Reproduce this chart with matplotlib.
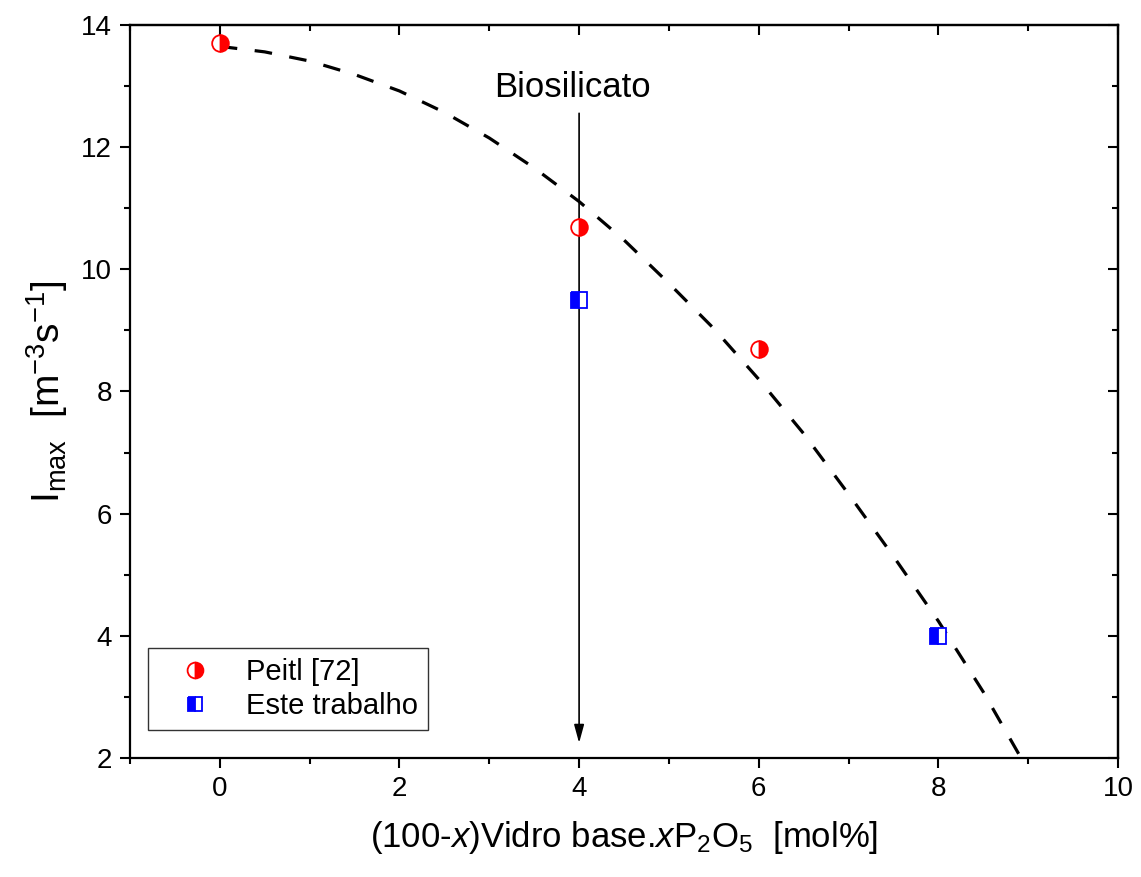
import matplotlib.pyplot as plt
from matplotlib.ticker import MultipleLocator

plt.rcParams["font.family"] = ["Liberation Sans", "DejaVu Sans"]
plt.rcParams["mathtext.fontset"] = "custom"
plt.rcParams["mathtext.rm"] = "Liberation Sans"
plt.rcParams["mathtext.it"] = "Liberation Sans:italic"

# measured points
peitl_x = [0, 4, 6]
peitl_y = [13.7, 10.7, 8.7]
este_x = [4, 8]
este_y = [9.5, 4.0]

# dashed guide curve
curve_x = [0, 0.5, 1.0, 1.5, 2.0, 2.5, 3.0, 3.5, 4.0, 4.5, 5.0, 5.5,
           6.0, 6.5, 7.0, 7.5, 8.0, 8.5, 8.92]
curve_y = [13.65, 13.56, 13.41, 13.19, 12.92, 12.57, 12.15, 11.66, 11.11,
           10.48, 9.77, 9.03, 8.20, 7.31, 6.32, 5.30, 4.24, 3.08, 2.0]

fig = plt.figure(figsize=(11.41, 8.77), dpi=100)
ax = fig.add_axes([0.1139, 0.1357, 0.866, 0.8358])

ax.plot(curve_x, curve_y, color="black", lw=2.3, dashes=(5.5, 5.5),
        zorder=2)
ax.plot(peitl_x, peitl_y, linestyle="none", marker="o", markersize=12,
        fillstyle="right", color="red", markerfacecoloralt="white",
        markeredgecolor="red", markeredgewidth=1.3, label="Peitl [72]",
        zorder=4)
ax.plot(este_x, este_y, linestyle="none", marker="s", markersize=11,
        fillstyle="left", color="blue", markerfacecoloralt="white",
        markeredgecolor="blue", markeredgewidth=1.3, label="Este trabalho",
        zorder=4)

ax.annotate("", xy=(4, 2.2), xytext=(4, 12.6),
            arrowprops=dict(arrowstyle="-|>,head_length=1.1,head_width=0.3",
                            color="black", lw=1.2), zorder=3)
ax.text(3.93, 12.97, "Biosilicato", ha="center", va="center", fontsize=25)

ax.set_xlim(-1, 10)
ax.set_ylim(2, 14)
ax.xaxis.set_major_locator(MultipleLocator(2))
ax.xaxis.set_minor_locator(MultipleLocator(1))
ax.yaxis.set_major_locator(MultipleLocator(2))
ax.yaxis.set_minor_locator(MultipleLocator(1))
ax.tick_params(which="both", direction="out", width=1.5, labelsize=20)
ax.tick_params(which="major", length=7, pad=6)
ax.tick_params(which="minor", length=4)

# mirrored ticks on top and right point inward
top = ax.secondary_xaxis("top")
top.xaxis.set_major_locator(MultipleLocator(2))
top.xaxis.set_minor_locator(MultipleLocator(1))
right = ax.secondary_yaxis("right")
right.yaxis.set_major_locator(MultipleLocator(2))
right.yaxis.set_minor_locator(MultipleLocator(1))
for sec in (top, right):
    sec.tick_params(which="both", direction="in", width=1.5,
                    labeltop=False, labelright=False)
    sec.tick_params(which="major", length=7)
    sec.tick_params(which="minor", length=4)
    for s in sec.spines.values():
        s.set_linewidth(1.6)
for s in ax.spines.values():
    s.set_linewidth(1.6)

ax.set_xlabel("(100-$\\it{x}$)Vidro base.$\\it{x}$P$_2$O$_5$  [mol%]",
              fontsize=25, labelpad=12)
ax.set_ylabel("I$_{\\mathrm{max}}$  [m$^{\\mathrm{-3}}$s$^{\\mathrm{-1}}$]",
              fontsize=28, labelpad=8)

leg = ax.legend(loc="lower left", bbox_to_anchor=(0.004, 0.018),
                fontsize=21, frameon=True, fancybox=False, shadow=False,
                handletextpad=0.5, borderpad=0.35, labelspacing=0.2,
                handlelength=2.5, markerscale=0.95)
leg.get_frame().set_edgecolor("black")
leg.get_frame().set_linewidth(1.0)

fig.savefig("out.png", dpi=100)
